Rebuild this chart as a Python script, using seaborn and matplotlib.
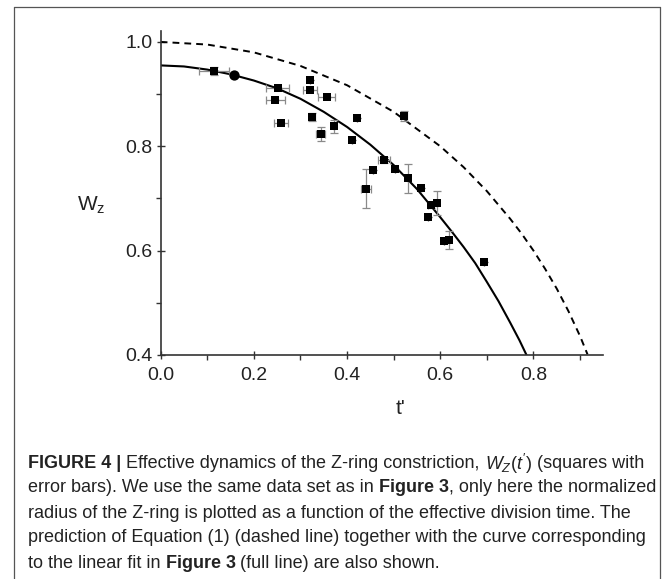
import matplotlib
matplotlib.use("Agg")
import matplotlib.pyplot as plt
import numpy as np
import seaborn as sns
from matplotlib.ticker import MultipleLocator

t_sq = [0.115, 0.251, 0.246, 0.258, 0.321, 0.321, 0.356, 0.325, 0.343, 0.372,
        0.422, 0.411, 0.522, 0.480, 0.455, 0.440, 0.503, 0.530, 0.558, 0.592,
        0.580, 0.573, 0.608, 0.619, 0.694]
w_sq = [0.944, 0.912, 0.889, 0.844, 0.927, 0.908, 0.894, 0.856, 0.824, 0.838,
        0.854, 0.812, 0.858, 0.774, 0.754, 0.719, 0.756, 0.739, 0.720, 0.692,
        0.687, 0.664, 0.618, 0.621, 0.579]
t_err = [0.032, 0.024, 0.020, 0.015, 0.0, 0.015, 0.018, 0.007, 0.009, 0.0,
         0.0, 0.0, 0.006, 0.013, 0.0, 0.011, 0.0, 0.0, 0.0, 0.0,
         0.006, 0.0, 0.0, 0.0, 0.0]
w_err = [0.008, 0.0, 0.0, 0.0, 0.0, 0.0, 0.0, 0.007, 0.013, 0.012,
         0.0, 0.0, 0.010, 0.006, 0.0, 0.038, 0.0, 0.028, 0.0, 0.023,
         0.006, 0.0, 0.0, 0.017, 0.0]

# single round marker
t_circ = [0.157]
w_circ = [0.937]

# full line (linear fit of Figure 3)
t_fit = [0.0, 0.05, 0.10, 0.15, 0.20, 0.25, 0.30, 0.35, 0.40, 0.45,
         0.50, 0.55, 0.60, 0.625, 0.65, 0.675, 0.70, 0.725, 0.75, 0.77, 0.785]
w_fit = [0.955, 0.953, 0.947, 0.938, 0.926, 0.911, 0.891, 0.866, 0.837, 0.803,
         0.764, 0.718, 0.664, 0.636, 0.607, 0.576, 0.540, 0.503, 0.462, 0.428, 0.400]

# dashed line (Equation 1)
t_eq = [0.0, 0.1, 0.2, 0.3, 0.4, 0.5, 0.6, 0.65, 0.7, 0.75, 0.775, 0.8, 0.825,
        0.85, 0.875, 0.9, 0.916]
w_eq = [1.0, 0.995, 0.980, 0.954, 0.917, 0.866, 0.800, 0.760, 0.714, 0.661,
        0.632, 0.600, 0.565, 0.527, 0.484, 0.436, 0.401]

sns.set_style("ticks")
plt.rcParams['font.family'] = ['Liberation Sans', 'DejaVu Sans']
plt.rcParams['mathtext.fontset'] = 'custom'
plt.rcParams['mathtext.rm'] = 'Liberation Sans'
plt.rcParams['mathtext.it'] = 'Liberation Sans:italic'
plt.rcParams['mathtext.bf'] = 'Liberation Sans:bold'

W, H = 672, 579
fig = plt.figure(figsize=(W / 100, H / 100), dpi=100)
fig.patch.set_facecolor('white')
ax = fig.add_axes([0.2391, 0.3869, 0.6588, 0.5587])

sns.lineplot(x=t_eq, y=w_eq, ax=ax, color='black', lw=1.4, sort=False,
             estimator=None)
ax.lines[-1].set_dashes((3.5, 2.6))
sns.lineplot(x=t_fit, y=w_fit, ax=ax, color='black', lw=1.5, sort=False,
             estimator=None)

ax.errorbar(t_sq, w_sq, xerr=t_err, yerr=w_err, fmt='none', ecolor='#8a8a8a',
            elinewidth=0.9, capsize=3, capthick=0.9, zorder=3)
sns.scatterplot(x=t_sq, y=w_sq, ax=ax, marker='s', s=40, color='black',
                edgecolor='black', linewidth=0, zorder=4)
sns.scatterplot(x=t_circ, y=w_circ, ax=ax, marker='o', s=55, color='black',
                edgecolor='black', linewidth=0, zorder=4)

ax.set_xlim(0, 0.95)
ax.set_ylim(0.4, 1.02)
ax.xaxis.set_minor_locator(MultipleLocator(0.1))
ax.yaxis.set_minor_locator(MultipleLocator(0.1))
ax.set_xticks([0.0, 0.2, 0.4, 0.6, 0.8])
ax.set_xticklabels(['0.0', '0.2', '0.4', '0.6', '0.8'])
ax.set_yticks([0.4, 0.6, 0.8, 1.0])
ax.set_yticklabels(['0.4', '0.6', '0.8', '1.0'])
sns.despine(ax=ax)
for s in ['left', 'bottom']:
    ax.spines[s].set_linewidth(1.2)
    ax.spines[s].set_color('#333333')
ax.tick_params(which='major', direction='inout', length=6, width=1.0,
               color='#333333', labelsize=14, labelcolor='#222222')
ax.tick_params(axis='x', which='major', pad=6)
ax.tick_params(axis='y', which='major', pad=3)
ax.tick_params(which='minor', direction='out', length=3.5, width=1.0, color='#333333')

ax.set_xlabel("t'", fontsize=15, color='#222222', va='center')
ax.xaxis.set_label_coords(0.542, -0.164)
ax.set_ylabel(r"W$_{\mathrm{z}}$", fontsize=15, color='#222222', rotation=0,
              ha='center', va='center')
ax.yaxis.set_label_coords(-0.157, 0.464)

# frame around figure + caption (open at the bottom)
for xs, ys in [([14, 14], [579, 7]), ([660, 660], [579, 7]), ([14, 660], [7, 7])]:
    fig.add_artist(plt.Line2D([v / W for v in xs], [1 - v / H for v in ys],
                              transform=fig.transFigure, color='#555555', lw=0.9))

# caption
cap_family = ['Liberation Sans Narrow', 'Liberation Sans', 'DejaVu Sans']
renderer = fig.canvas.get_renderer()

probe = fig.text(0, 0, "radius of the Z-ring is plotted as a function of the effective division time. The",
                 fontsize=10, family=cap_family)
cap_size = 10 * 606 / probe.get_window_extent(renderer).width
probe.remove()

def text_width(s, weight='normal'):
    t = fig.text(0, 0, s, fontsize=cap_size, family=cap_family, weight=weight)
    w = t.get_window_extent(renderer).width
    t.remove()
    return w

space_w = text_width("x x") - text_width("xx")

caption = [
    [("FIGURE 4 |", 'bold', False),
     ("Effective dynamics of the Z-ring constriction,", 'normal', True),
     (r"$W_Z(t')$", 'normal', True),
     ("(squares with", 'normal', True)],
    [("error bars). We use the same data set as in", 'normal', False),
     ("Figure 3", 'bold', True),
     (", only here the normalized", 'normal', False)],
    [("radius of the Z-ring is plotted as a function of the effective division time. The", 'normal', False)],
    [("prediction of Equation (1) (dashed line) together with the curve corresponding", 'normal', False)],
    [("to the linear fit in", 'normal', False),
     ("Figure 3", 'bold', True),
     ("(full line) are also shown.", 'normal', True)],
]
line_y = [461, 486, 511, 536, 562]

for pieces, y in zip(caption, line_y):
    x = 28.0
    for txt, weight, space in pieces:
        if space:
            x += space_w
        t = fig.text(x / W, 1 - y / H, txt, fontsize=cap_size, family=cap_family,
                     weight=weight, color='#222222', ha='left', va='center_baseline')
        x = t.get_window_extent(renderer).x1

fig.savefig("out.png", dpi=100, facecolor='white')
